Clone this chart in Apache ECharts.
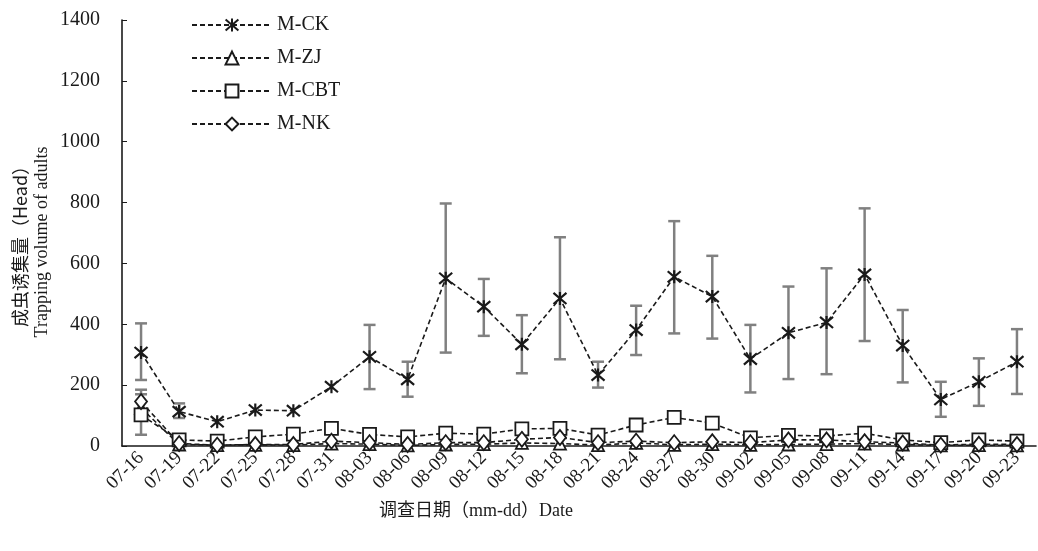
<!DOCTYPE html>
<html lang="zh">
  <head>
    <meta charset="utf-8" />
    <title>成虫诱集量</title>
    <script
      type="text/javascript"
      src="https://cdn.jsdelivr.net/npm/echarts@6/dist/echarts.min.js"
    ></script>
    <style type="text/css">
      * {
        margin: 0;
        padding: 0;
      }
      html,
      body,
      #chart {
        width: 100%;
        height: 100%;
        overflow: hidden;
        background: #fff;
      }
    </style>
  </head>
  <body>
    <div id="chart"></div>
    <script type="text/javascript">
      // survey dates (mm-dd)
      var dates = [
        "07-16", "07-19", "07-22", "07-25", "07-28", "07-31",
        "08-03", "08-06", "08-09", "08-12", "08-15", "08-18",
        "08-21", "08-24", "08-27", "08-30", "09-02", "09-05",
        "09-08", "09-11", "09-14", "09-17", "09-20", "09-23"
      ];
      var yTicks = [0, 200, 400, 600, 800, 1000, 1200, 1400];

      // series means
      var ck = [307, 113, 80, 118, 116, 195, 293, 219, 551, 458, 334, 485,
                233, 381, 556, 491, 286, 372, 406, 564, 330, 153, 211, 277];
      var zj = [125, 5, 3, 4, 3, 8, 6, 2, 5, 6, 10, 8,
                3, 10, 4, 6, 4, 5, 6, 8, 5, 2, 3, 2];
      var cbt = [102, 20, 16, 30, 39, 58, 38, 30, 42, 39, 56, 58,
                 36, 69, 94, 75, 27, 35, 33, 42, 20, 11, 20, 16];
      var nk = [146, 8, 3, 5, 5, 16, 11, 5, 11, 11, 22, 28,
                11, 16, 11, 14, 11, 20, 20, 14, 10, 3, 6, 5];

      // error bar ends (null = too small to show)
      var ckLow = [217, 92, null, null, null, null, 187, 162, 307, 362, 239, 285,
                   192, 299, 370, 353, 176, 220, 236, 345, 209, 96, 132, 171];
      var ckHigh = [403, 140, null, null, null, null, 398, 277, 797, 549, 430, 686,
                    277, 461, 739, 625, 398, 524, 584, 781, 447, 211, 288, 384];
      var cbtLow = [37];
      var cbtHigh = [170];
      var nkLow = [105];
      var nkHigh = [185];

      var serif = '"Liberation Serif", "Noto Sans CJK SC", serif';

      function errData(low, high) {
        var out = [];
        for (var i = 0; i < low.length; i++) {
          if (low[i] != null) out.push([i, low[i], high[i]]);
        }
        return out;
      }

      function renderErr(params, api) {
        var top = api.coord([api.value(0), api.value(2)]);
        var bot = api.coord([api.value(0), api.value(1)]);
        var cap = 6;
        var style = { stroke: "#808080", lineWidth: 2.5 };
        return {
          type: "group",
          children: [
            { type: "line", shape: { x1: top[0], y1: top[1], x2: bot[0], y2: bot[1] }, style: style },
            { type: "line", shape: { x1: top[0] - cap, y1: top[1], x2: top[0] + cap, y2: top[1] }, style: style },
            { type: "line", shape: { x1: bot[0] - cap, y1: bot[1], x2: bot[0] + cap, y2: bot[1] }, style: style }
          ]
        };
      }

      function errSeries(low, high) {
        return {
          type: "custom",
          renderItem: renderErr,
          data: errData(low, high),
          encode: { x: 0, y: [1, 2] },
          z: 1,
          silent: true
        };
      }

      function lineSeries(name, data, symbol, size) {
        return {
          name: name,
          type: "line",
          data: data,
          symbol: symbol,
          symbolSize: size,
          z: 3,
          lineStyle: { color: "#1a1a1a", width: 1.6, type: [5, 3] },
          itemStyle: { color: "#fff", borderColor: "#1a1a1a", borderWidth: 1.8 }
        };
      }

      var chart = echarts.init(document.getElementById("chart"));

      var ckSeries = lineSeries("M-CK", ck, "path://M0,0L12,12M12,0L0,12M6,-1L6,13", 13);
      ckSeries.itemStyle = { color: "#1a1a1a", borderColor: "#1a1a1a", borderWidth: 2.2 };

      chart.setOption({
        animation: false,
        textStyle: { fontFamily: serif },
        grid: { left: 122, right: 2, top: 20, bottom: 105 },
        legend: {
          orient: "vertical",
          left: 186,
          top: 10,
          itemWidth: 80,
          itemHeight: 16,
          itemGap: 13,
          textStyle: { fontFamily: serif, fontSize: 20, color: "#1a1a1a" },
          data: ["M-CK", "M-ZJ", "M-CBT", "M-NK"]
        },
        xAxis: {
          type: "category",
          data: dates,
          boundaryGap: true,
          axisLine: { lineStyle: { color: "#1a1a1a", width: 1.6 } },
          axisTick: { inside: true, length: 5, lineStyle: { color: "#1a1a1a" } },
          axisLabel: {
            rotate: 45,
            interval: 0,
            margin: 9,
            fontSize: 19,
            fontFamily: serif,
            color: "#1a1a1a"
          },
          splitLine: { show: false }
        },
        yAxis: {
          type: "value",
          min: yTicks[0],
          max: yTicks[yTicks.length - 1],
          interval: yTicks[1] - yTicks[0],
          axisLine: { show: true, lineStyle: { color: "#1a1a1a", width: 1.6 } },
          axisTick: { show: true, inside: true, length: 5, lineStyle: { color: "#1a1a1a" } },
          axisLabel: {
            margin: 22,
            fontSize: 20,
            fontFamily: serif,
            color: "#1a1a1a",
            formatter: function (v) { return String(v); }
          },
          splitLine: { show: false }
        },
        graphic: [
          {
            type: "text",
            x: 20,
            y: 242,
            rotation: Math.PI / 2,
            style: {
              text: "成虫诱集量（Head）",
              font: '18px "Noto Sans CJK SC", "Liberation Serif", serif',
              fill: "#1a1a1a",
              textAlign: "center",
              textVerticalAlign: "middle"
            }
          },
          {
            type: "text",
            x: 42,
            y: 242,
            rotation: Math.PI / 2,
            style: {
              text: "Trapping volume of adults",
              font: '18px "Liberation Serif", serif',
              fill: "#1a1a1a",
              textAlign: "center",
              textVerticalAlign: "middle"
            }
          },
          {
            type: "text",
            x: 476,
            y: 511,
            style: {
              text: "调查日期（mm-dd）Date",
              font: '18px "Liberation Serif", "Noto Sans CJK SC", serif',
              fill: "#1a1a1a",
              textAlign: "center",
              textVerticalAlign: "middle"
            }
          }
        ],
        series: [
          errSeries(ckLow, ckHigh),
          errSeries(cbtLow, cbtHigh),
          errSeries(nkLow, nkHigh),
          ckSeries,
          lineSeries("M-ZJ", zj, "triangle", 12),
          lineSeries("M-CBT", cbt, "rect", 13),
          lineSeries("M-NK", nk, "diamond", [12, 15])
        ]
      });
    </script>
  </body>
</html>
